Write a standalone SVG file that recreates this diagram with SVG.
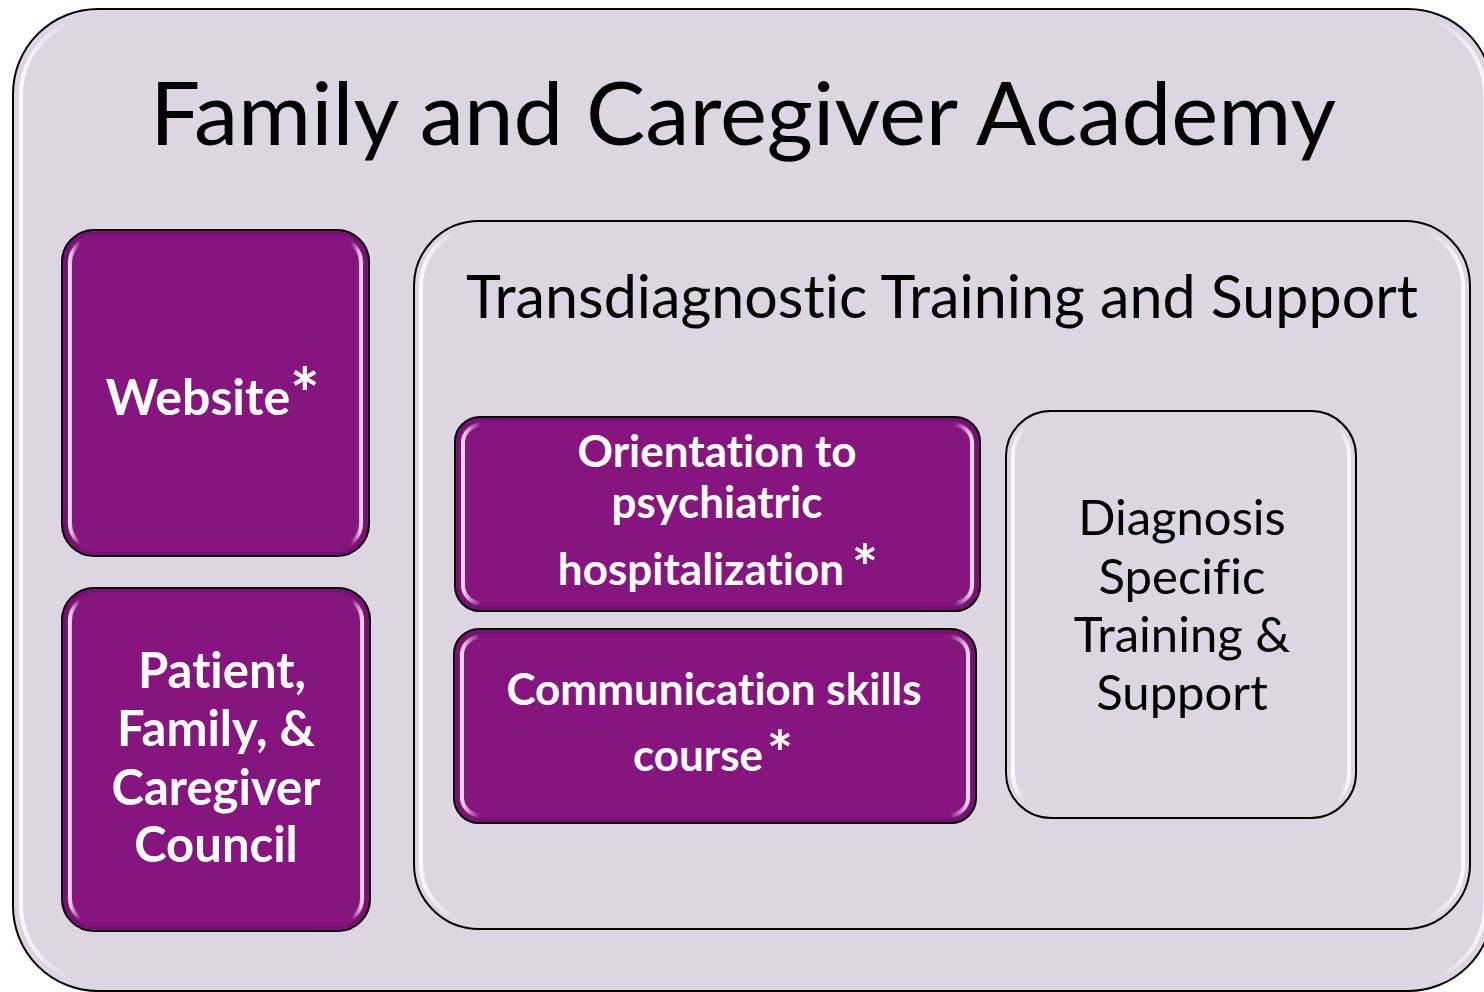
<svg xmlns="http://www.w3.org/2000/svg" width="1484" height="992" viewBox="0 0 1484 992">
<style>
.txt{font-family:Lato,"Open Sans","Liberation Sans",sans-serif;text-anchor:middle;font-variant-ligatures:none;font-feature-settings:"liga" 0}
.dark{fill:#000}
.light{fill:#fff;font-weight:bold}
.frame{stroke:#000;stroke-width:2}
.lav{fill:#DCD6E3}
.pur{fill:#86157F}
.bev{fill:none;stroke:url(#bevel);stroke-width:4}
.shade{fill:none;stroke:#5a0a55;stroke-opacity:0.35;stroke-width:3}
</style>
<defs>
<linearGradient id="bevel" x1="0" y1="0" x2="1" y2="0">
<stop offset="0" stop-color="#fff" stop-opacity="0.85"/>
<stop offset="0.035" stop-color="#fff" stop-opacity="0"/>
<stop offset="0.965" stop-color="#fff" stop-opacity="0"/>
<stop offset="1" stop-color="#fff" stop-opacity="0.85"/>
</linearGradient>
</defs>
<g id="academy">
<rect class="lav frame" x="13" y="9" width="1480" height="982" rx="85"/>
<rect class="bev" x="21" y="17" width="1464" height="966" rx="78"/>
<text class="txt dark" x="743" y="145" font-size="88" textLength="1186" lengthAdjust="spacingAndGlyphs">Family and Caregiver Academy</text>
</g>
<g id="transdiagnostic">
<rect class="lav frame" x="414" y="221" width="1056" height="708" rx="65"/>
<rect class="bev" x="421" y="228" width="1042" height="694" rx="58"/>
<text class="txt dark" x="942" y="318" font-size="60" textLength="952" lengthAdjust="spacingAndGlyphs">Transdiagnostic Training and Support</text>
</g>
<g id="website">
<rect class="pur frame" x="62" y="230" width="307" height="326" rx="32"/>
<rect class="shade" x="65" y="233" width="301" height="320" rx="29"/>
<rect class="bev" x="70" y="238" width="291" height="310" rx="25"/>
<text class="txt light" font-size="50"><tspan x="198" y="415">Website</tspan><tspan x="305" y="420" font-size="70">*</tspan></text>
</g>
<g id="council">
<rect class="pur frame" x="62" y="588" width="308" height="343" rx="32"/>
<rect class="shade" x="65" y="591" width="302" height="337" rx="29"/>
<rect class="bev" x="70" y="596" width="292" height="327" rx="25"/>
<text class="txt light" font-size="49"><tspan x="222" y="688">Patient,</tspan><tspan x="216" y="746">Family, &amp;</tspan><tspan x="216" y="805">Caregiver</tspan><tspan x="216" y="862">Council</tspan></text>
</g>
<g id="orientation">
<rect class="pur frame" x="455" y="417" width="525" height="194" rx="25"/>
<rect class="shade" x="458" y="420" width="519" height="188" rx="22"/>
<rect class="bev" x="463" y="425" width="509" height="178" rx="18"/>
<text class="txt light" font-size="44"><tspan x="717" y="467">Orientation to</tspan><tspan x="717" y="518">psychiatric</tspan><tspan x="701" y="585">hospitalization</tspan><tspan x="865" y="590" font-size="62">*</tspan></text>
</g>
<g id="communication">
<rect class="pur frame" x="454" y="629" width="522" height="194" rx="25"/>
<rect class="shade" x="457" y="632" width="516" height="188" rx="22"/>
<rect class="bev" x="462" y="637" width="506" height="178" rx="18"/>
<text class="txt light" font-size="44"><tspan x="714" y="705">Communication skills</tspan><tspan x="698" y="771">course</tspan><tspan x="780" y="776" font-size="62">*</tspan></text>
</g>
<g id="diagnosis">
<rect class="lav frame" x="1006" y="411" width="350" height="407" rx="45"/>
<rect class="bev" x="1013" y="418" width="336" height="393" rx="38"/>
<text class="txt dark" font-size="49"><tspan x="1182" y="535">Diagnosis</tspan><tspan x="1182" y="594">Specific</tspan><tspan x="1182" y="652">Training &amp;</tspan><tspan x="1182" y="710">Support</tspan></text>
</g>
<g id="connectors"></g>
</svg>
